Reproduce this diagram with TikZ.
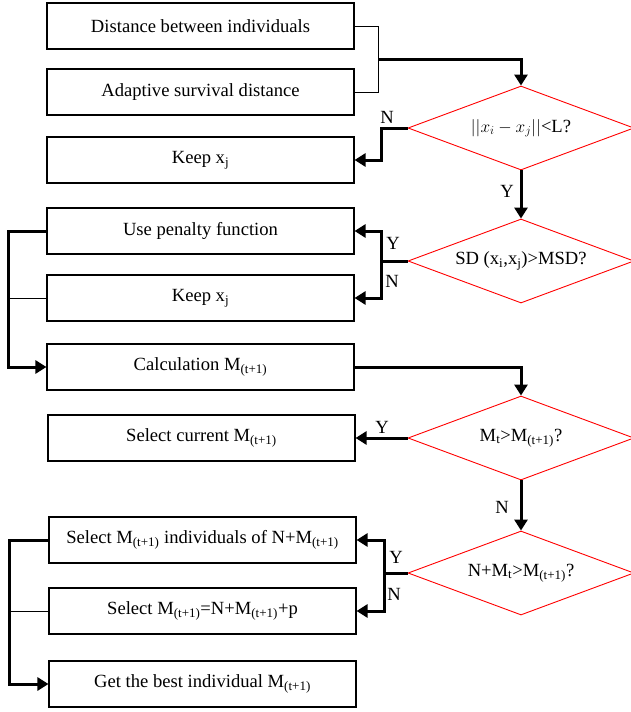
\documentclass[tikz,border=0pt]{standalone}
\usepackage{fontspec}
\setmainfont{Liberation Serif}
\usetikzlibrary{shapes.geometric,arrows.meta}
\newcommand{\sbs}[1]{\textsubscript{#1}}

\begin{document}
\begin{tikzpicture}[x=1pt,y=-1pt,
    txt/.style={font=\fontsize{18.6}{21}\selectfont},
    box/.style={txt,draw,line width=1.1pt,minimum width=307pt,minimum height=46pt,inner sep=0pt},
    decision/.style={txt,diamond,draw=red,line width=0.9pt,aspect=2.69,minimum width=226pt,minimum height=84pt,inner sep=0pt},
    link/.style={line width=3pt},
    flow/.style={link,-{Triangle[length=11pt,width=13pt]}},
    thinlink/.style={line width=1pt}]

  \useasboundingbox (0,0) rectangle (631,712);

  % boxes
  \node[box] (dist)  at (200.5,26)  {Distance between individuals};
  \node[box] (adapt) at (200.5,92)  {Adaptive survival distance};
  \node[box] (keep1) at (200.5,160) {Keep x\sbs{j}};
  \node[box] (pen)   at (200.5,231) {Use penalty function};
  \node[box] (keep2) at (200.5,298) {Keep x\sbs{j}};
  \node[box] (calc)  at (200.5,367) {Calculation M\sbs{(t+1)}};
  \node[box] (cur)   at (201.5,438) {Select current M\sbs{(t+1)}};
  \node[box] (selN)  at (202.5,540) {Select M\sbs{(t+1)} individuals of N+M\sbs{(t+1)}};
  \node[box] (selP)  at (202.5,611) {Select M\sbs{(t+1)}=N+M\sbs{(t+1)}+p};
  \node[box] (best)  at (202.5,684) {Get the best individual M\sbs{(t+1)}};

  % decisions
  \node[decision] (d1) at (521,128) {$||x_i-x_j||$<L?};
  \node[decision] (d2) at (521,261) {SD (x\sbs{i},x\sbs{j})>MSD?};
  \node[decision] (d3) at (521,438) {M\sbs{t}>M\sbs{(t+1)}?};
  \node[decision] (d4) at (521,573) {N+M\sbs{t}>M\sbs{(t+1)}?};

  % bends
  \coordinate (j1) at (378,59);
  \coordinate (b1) at (381,128);
  \coordinate (b2) at (381,261);
  \coordinate (b4) at (384,573);
  \coordinate (l1) at (8,231);
  \coordinate (l2) at (9,540);

  % top
  \draw[thinlink] (dist.east) -| (adapt.east -| j1) -- (adapt.east);
  \draw[flow] (j1) -| (d1.north);
  \draw[flow] (d1.west) -- (b1) |- (keep1.east);
  \draw[flow] (d1.south) -- (d2.north);

  % penalty
  \draw[link] (d2.west) -- (b2);
  \draw[flow] (b2) |- (pen.east);
  \draw[flow] (b2) |- (keep2.east);
  \draw[flow] (pen.west) -- (l1) |- (calc.west);
  \draw[thinlink] (keep2.west) -- (keep2.west -| l1);

  % selection
  \draw[flow] (calc.east) -| (d3.north);
  \draw[flow] (d3.west) -- (cur.east);
  \draw[flow] (d3.south) -- (d4.north);
  \draw[link] (d4.west) -- (b4);
  \draw[flow] (b4) |- (selN.east);
  \draw[flow] (b4) |- (selP.east);
  \draw[flow] (selN.west) -- (l2) |- (best.west);
  \draw[thinlink] (selP.west) -- (selP.west -| l2);

  % labels
  \node[txt] (n1) at (387,117) {N};
  \node[txt] (y1) at (507,191) {Y};
  \node[txt] (y2) at (393,243) {Y};
  \node[txt] (n2) at (392,281) {N};
  \node[txt] (y3) at (382,427) {Y};
  \node[txt] (n3) at (502,507) {N};
  \node[txt] (y4) at (396,557) {Y};
  \node[txt] (n4) at (394,594) {N};

\end{tikzpicture}
\end{document}
